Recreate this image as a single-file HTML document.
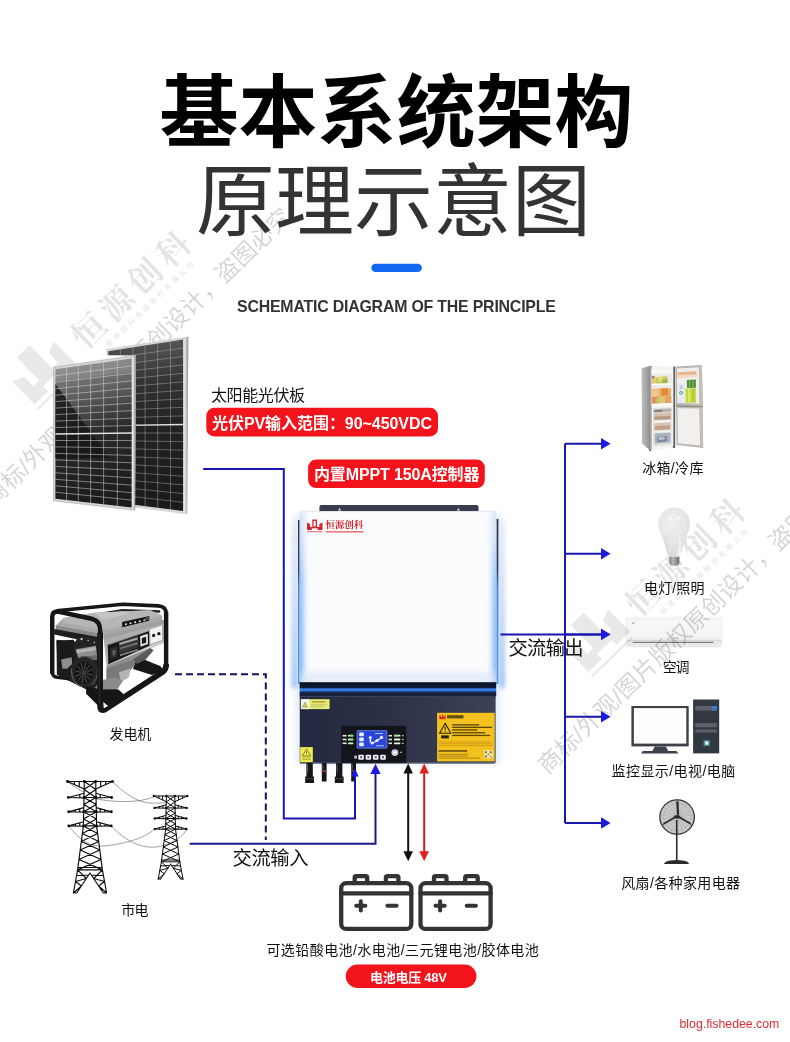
<!DOCTYPE html>
<html lang="zh-CN">
<head>
<meta charset="utf-8">
<title>基本系统架构 原理示意图</title>
<style>
html,body{margin:0;padding:0;background:#fff}
#page{position:relative;width:790px;height:1042px;overflow:hidden;background:#fff;font-family:"Liberation Sans",sans-serif}
#art{position:absolute;left:0;top:0;display:block}
#art text{font-family:"Liberation Sans","Noto Sans CJK SC",sans-serif}
#art text.serif{font-family:"Liberation Serif","Noto Serif CJK SC",serif}
.en{position:absolute;white-space:nowrap;font-family:"Liberation Sans",sans-serif;margin:0}
</style>
</head>
<body>
<div id="page">
<svg id="art" width="790" height="1042" viewBox="0 0 790 1042">
<defs><linearGradient id="invW" x1="0" y1="0" x2="1" y2="0"><stop offset="0" stop-color="#dcebfb"/><stop offset="0.05" stop-color="#f4f7fd"/><stop offset="0.5" stop-color="#fcfcfe"/><stop offset="0.93" stop-color="#f1f5fc"/><stop offset="1" stop-color="#d2e4fa"/></linearGradient><linearGradient id="invD" x1="0" y1="0" x2="1" y2="0"><stop offset="0" stop-color="#232940"/><stop offset="0.45" stop-color="#2c3147"/><stop offset="1" stop-color="#3d4258"/></linearGradient><linearGradient id="invGl" x1="0" y1="0" x2="1" y2="0"><stop offset="0" stop-color="#ffffff" stop-opacity="0"/><stop offset="0.55" stop-color="#9cc6f7" stop-opacity=".55"/><stop offset="1" stop-color="#3f8fee"/></linearGradient><linearGradient id="invGr" x1="1" y1="0" x2="0" y2="0"><stop offset="0" stop-color="#ffffff" stop-opacity="0"/><stop offset="0.55" stop-color="#9cc6f7" stop-opacity=".55"/><stop offset="1" stop-color="#3f8fee"/></linearGradient><linearGradient id="invStripe" x1="0" y1="0" x2="0" y2="1"><stop offset="0" stop-color="#0b1020"/><stop offset="0.38" stop-color="#0d1a3c"/><stop offset="0.5" stop-color="#3b8df2"/><stop offset="0.62" stop-color="#2a6ad0"/><stop offset="0.75" stop-color="#14203f"/><stop offset="1" stop-color="#1c2238"/></linearGradient><linearGradient id="invSide" x1="0" y1="0" x2="0" y2="1"><stop offset="0" stop-color="#1a2544"/><stop offset="0.3" stop-color="#16264e"/><stop offset="0.42" stop-color="#2f74d8"/><stop offset="1" stop-color="#3f90f2"/></linearGradient><clipPath id="invClip"><rect x="299.6" y="511.2" width="196.9" height="171.2"/></clipPath><linearGradient id="solF" x1="0" y1="0" x2="0.12" y2="1"><stop offset="0" stop-color="#8e8e8e"/><stop offset="0.2" stop-color="#6e6e6e"/><stop offset="0.42" stop-color="#444"/><stop offset="0.55" stop-color="#2a2a2a"/><stop offset="1" stop-color="#1c1c1c"/></linearGradient><linearGradient id="solB" x1="0" y1="0" x2="0" y2="1"><stop offset="0" stop-color="#555"/><stop offset="0.25" stop-color="#333"/><stop offset="0.5" stop-color="#222"/><stop offset="1" stop-color="#1a1a1a"/></linearGradient><linearGradient id="solFr" x1="0" y1="0" x2="1" y2="0"><stop offset="0" stop-color="#f2f2f2"/><stop offset="0.5" stop-color="#cfcfcf"/><stop offset="1" stop-color="#8e8e8e"/></linearGradient><clipPath id="solBackClip"><polygon points="135.6,300 200,300 200,530 135.0,530 135.0,510.3 135.6,355.2 100,355.2 100,300"/></clipPath><linearGradient id="frSide" x1="0" y1="0" x2="1" y2="0"><stop offset="0" stop-color="#bdbdbd"/><stop offset="0.6" stop-color="#a4a4a4"/><stop offset="1" stop-color="#8e8e8e"/></linearGradient><radialGradient id="bulbG" cx="0.42" cy="0.3" r="0.75"><stop offset="0" stop-color="#efefef"/><stop offset="0.55" stop-color="#e6e6e6"/><stop offset="1" stop-color="#d8d8d8"/></radialGradient><linearGradient id="bulbB" x1="0" y1="0" x2="1" y2="0"><stop offset="0" stop-color="#7e7e7e"/><stop offset="0.35" stop-color="#c4c4c4"/><stop offset="0.6" stop-color="#a0a0a0"/><stop offset="1" stop-color="#6e6e6e"/></linearGradient><linearGradient id="acG" x1="0" y1="0" x2="0" y2="1"><stop offset="0" stop-color="#f1f1f1"/><stop offset="0.2" stop-color="#f8f8f8"/><stop offset="0.85" stop-color="#f3f3f3"/><stop offset="1" stop-color="#e6e6e6"/></linearGradient><linearGradient id="invOut" x1="0" y1="0" x2="0" y2="1"><stop offset="0" stop-color="#c9d3ea" stop-opacity=".35"/><stop offset="0.4" stop-color="#b4cbf0" stop-opacity=".6"/><stop offset="1" stop-color="#8fb9f3" stop-opacity=".85"/></linearGradient><linearGradient id="invIn" x1="0" y1="0" x2="0" y2="1"><stop offset="0" stop-color="#4f9bf3" stop-opacity="0"/><stop offset="0.3" stop-color="#4f9bf3" stop-opacity=".75"/><stop offset="1" stop-color="#4f9bf3" stop-opacity="1"/></linearGradient><filter id="blur2" x="-150%" y="-10%" width="400%" height="120%"><feGaussianBlur stdDeviation="2.2"/></filter><filter id="blur1" x="-20%" y="-20%" width="140%" height="140%"><feGaussianBlur stdDeviation="1.2"/></filter><filter id="blur3" x="-300%" y="-30%" width="700%" height="160%"><feGaussianBlur stdDeviation="3"/></filter><filter id="blur05" x="-10%" y="-10%" width="120%" height="120%"><feGaussianBlur stdDeviation="0.5"/></filter></defs>
<g transform="translate(88.1 329.1) rotate(-44)" fill="#000" fill-opacity=".085"><path d="M-66 22V-10L-54 -5V8H-46V-24H-28V8H-20V-5L-8 -10V22H-27V15H-47V22Z" transform="translate(-25 -5)"/><rect x="-92" y="21.5" width="56" height="2"/></g>
<text class="serif" transform="translate(88.1 329.1) rotate(-44)" x="-17" y="13.5" font-size="33" font-weight="bold" fill="#000" fill-opacity=".105" textLength="150" lengthAdjust="spacing">恒源创科</text>
<text transform="translate(88.1 329.1) rotate(-44)" x="2" y="27.5" font-size="7" font-weight="bold" fill="#000" fill-opacity=".09" textLength="119" lengthAdjust="spacing">恒源创科电器股份有限公司</text>
<text transform="translate(88.1 329.1) rotate(-44)" x="-192" y="62.5" font-size="23.5" fill="#000" fill-opacity=".17" textLength="416" lengthAdjust="spacing">商标/外观/图片版权原创设计，盗图必究</text>
<g transform="translate(642.1 596.6) rotate(-44)" fill="#000" fill-opacity=".085"><path d="M-66 22V-10L-54 -5V8H-46V-24H-28V8H-20V-5L-8 -10V22H-27V15H-47V22Z" transform="translate(-25 -5)"/><rect x="-92" y="21.5" width="56" height="2"/></g>
<text class="serif" transform="translate(642.1 596.6) rotate(-44)" x="-17" y="13.5" font-size="33" font-weight="bold" fill="#000" fill-opacity=".105" textLength="150" lengthAdjust="spacing">恒源创科</text>
<text transform="translate(642.1 596.6) rotate(-44)" x="2" y="27.5" font-size="7" font-weight="bold" fill="#000" fill-opacity=".09" textLength="119" lengthAdjust="spacing">恒源创科电器股份有限公司</text>
<text transform="translate(642.1 596.6) rotate(-44)" x="-192" y="62.5" font-size="23.5" fill="#000" fill-opacity=".17" textLength="416" lengthAdjust="spacing">商标/外观/图片版权原创设计，盗图必究</text>
<text x="396.5" y="141" font-size="79" font-weight="bold" fill="#000" text-anchor="middle">基本系统架构</text>
<text x="393.5" y="230" font-size="79" fill="#333" text-anchor="middle">原理示意图</text>
<rect x="371.3" y="263.7" width="50.6" height="8.3" rx="4.15" fill="#1268f3"/>
<g clip-path="url(#solBackClip)"><polygon points="106.4,349.0 188.3,336.4 187.2,514.2 106.4,504.0" fill="#d4d4d4"/><polygon points="108.3,351.2 183.4,339.6 183.4,511.0 108.3,501.5" fill="url(#solB)"/><path d="M120.4 349.3L120.4 503.0M132.7 347.4L132.7 504.6M145.1 345.5L145.1 506.2M157.7 343.6L157.7 507.8M170.5 341.6L170.5 509.4M108.3 358.6L183.4 348.0M108.3 366.0L183.4 356.4M108.3 373.4L183.4 364.9M108.3 380.8L183.4 373.3M108.3 388.2L183.4 381.8M108.3 395.7L183.4 390.3M108.3 403.1L183.4 398.8M108.3 410.6L183.4 407.3M108.3 418.1L183.4 415.9M108.3 433.1L183.4 433.0M108.3 440.7L183.4 441.6M108.3 448.2L183.4 450.2M108.3 455.8L183.4 458.9M108.3 463.4L183.4 467.5M108.3 471.0L183.4 476.2M108.3 478.6L183.4 484.9M108.3 486.2L183.4 493.6M108.3 493.8L183.4 502.3" stroke="#bdbdbd" stroke-width="0.6" stroke-opacity="0.7" fill="none"/><path d="M108.3 425.6L183.4 424.5" stroke="#e2e2e2" stroke-width="1.3" fill="none"/><polygon points="183.4,339.6 188.3,336.4 187.2,514.2 183.4,511" fill="url(#solFr)"/></g><polygon points="53.6,367.3 135.6,355.2 135.0,510.3 53.5,500.8" fill="#d4d4d4"/><polygon points="55.5,369.3 131.8,358.4 131.8,507.6 55.4,498.7" fill="url(#solF)"/><polygon points="55.4,384 92,433.5 110,458 55.4,458" fill="#161616" opacity=".82" filter="url(#blur05)"/><polygon points="55.5,369.3 131.8,358.4 131.8,372 55.5,381" fill="#ffffff" opacity=".12"/><path d="M66.6 367.7L66.6 500.0M78.3 366.0L78.3 501.4M90.7 364.3L90.6 502.8M103.6 362.4L103.6 504.3M117.3 360.5L117.3 505.9M55.5 375.8L131.8 365.9M55.5 382.2L131.8 373.3M55.5 388.7L131.8 380.8M55.5 395.2L131.8 388.2M55.5 401.6L131.8 395.7M55.5 408.1L131.8 403.2M55.5 414.6L131.8 410.6M55.5 421.1L131.8 418.1M55.5 427.5L131.8 425.5M55.4 440.5L131.8 440.5M55.4 446.9L131.8 447.9M55.4 453.4L131.8 455.4M55.4 459.9L131.8 462.8M55.4 466.4L131.8 470.3M55.4 472.8L131.8 477.8M55.4 479.3L131.8 485.2M55.4 485.8L131.8 492.7M55.4 492.2L131.8 500.1" stroke="#dcdcdc" stroke-width="0.65" stroke-opacity="0.78" fill="none"/><path d="M55.5 434.0L131.8 433.0" stroke="#e2e2e2" stroke-width="1.3" fill="none"/><polygon points="131.8,358.4 135.6,355.2 135.0,510.3 131.8,507.6" fill="url(#solFr)"/><polygon points="53.6,367.3 135.6,355.2 135.0,510.3 53.5,500.8" fill="none" stroke="#9a9a9a" stroke-width=".5"/>
<g transform="translate(45 595) scale(0.16456)"><path d="M70 96L472 56L690 66Q736 70 736 112" fill="none" stroke="#161616" stroke-width="22" stroke-linejoin="round"/><path d="M190 140L470 92L700 100" fill="none" stroke="#242424" stroke-width="15"/><polygon points="549,404 590,388 700,432 722,458 650,486 535,450" fill="#171717" /><polygon points="66,186 112,140 300,108 640,92 712,124 712,166 372,250 340,238 66,212" fill="#a9a9a9" /><polygon points="112,140 300,108 640,92 706,124 366,214 108,168" fill="#b6b6b6" /><polygon points="300,108 470,100 520,112 350,150" fill="#cdcdcd" opacity=".6"/><polygon points="66,186 340,236 340,262 66,214" fill="#8a8a8a" /><polygon points="56,206 340,258 340,300 56,240" fill="#1d1d1d" /><polygon points="355,246 738,148 740,284 374,430" fill="#adadad" /><polygon points="355,246 738,148 738,168 356,270" fill="#9f9f9f" /><polygon points="468,164 634,128 634,157 470,196" fill="#141414" /><circle cx="492" cy="178.0" r="6" fill="#efefef"/><circle cx="520" cy="171.8" r="6" fill="#efefef"/><circle cx="548" cy="165.6" r="6" fill="#efefef"/><circle cx="576" cy="159.4" r="6" fill="#efefef"/><circle cx="604" cy="153.2" r="6" fill="#efefef"/><polygon points="606,137 632,131 632,152 606,158" fill="#4c4c4c" /><polygon points="381,300 632,216 634,310 385,422" fill="#181818" /><polygon points="384,296 632,212 632,220 384,306" fill="#dadada" opacity=".55"/><polygon points="448,286 566,248 569,318 452,356" fill="#383838" /><polygon points="452,292 562,258 563,270 453,304" fill="#c8c8c8" opacity=".8"/><polygon points="456,320 562,288 563,298 457,330" fill="#999" opacity=".7"/><polygon points="455,360 565,326 566,338 456,372" fill="#aaa" opacity=".7"/><polygon points="398,322 438,308 440,374 400,390" fill="#2e2e2e" /><polygon points="410,338 428,332 429,362 411,368" fill="#606060" /><polygon points="578,250 624,236 626,298 580,314" fill="#e6e6e6" /><polygon points="588,262 614,254 615,290 589,298" fill="#1c1c1c" /><polygon points="638,210 711,186 712,274 641,298" fill="#f3f3f3" /><circle cx="660" cy="246" r="10" fill="#141414"/><circle cx="692" cy="235" r="10" fill="#141414"/><polygon points="385,422 634,310 740,270 740,284 374,430" fill="#cfcfcf" /><polygon points="374,430 640,322 612,392 549,408 444,566 374,600" fill="#8f8f8f" /><polygon points="374,448 535,392 549,420 470,520 420,560 374,560" fill="#7a7a7a" /><polygon points="450,470 520,446 510,500 460,530" fill="#b4b4b4" /><polygon points="535,392 640,322 660,336 612,392 560,420" fill="#5a5a5a" /><polygon points="70,272 186,282 200,250 340,264 340,604 292,594 150,524 72,484" fill="#232323" /><polygon points="186,330 310,308 318,392 210,408" fill="#8e8e8e" /><polygon points="190,336 306,316 308,334 194,356" fill="#b4b4b4" /><polygon points="212,380 316,364 318,392 214,408" fill="#6e6e6e" /><polygon points="70,278 176,272 184,490 78,484" fill="#1b1b1b" /><polygon points="98,392 162,378 165,420 134,448 106,448" fill="#8e8e8e" /><circle cx="222" cy="268" r="7" fill="#e2e2e2"/><circle cx="262" cy="276" r="4.5" fill="#bbb"/><circle cx="300" cy="288" r="4.5" fill="#ccc"/><ellipse cx="240" cy="466" rx="82" ry="96" fill="#262626"/><ellipse cx="240" cy="466" rx="79" ry="93" fill="none" stroke="#6c6c6c" stroke-width="6" stroke-dasharray="90 60 140 80"/><ellipse cx="236" cy="474" rx="58" ry="68" fill="#151515"/><path d="M254 478L290 487M249 487L277 517M242 493L253 536M232 494L225 538M224 489L200 523M219 480L184 495M218 470L182 461M223 461L195 431M230 455L219 412M240 454L247 410M248 459L272 425M253 468L288 453" stroke="#5a5a5a" stroke-width="5" fill="none"/><ellipse cx="236" cy="474" rx="15" ry="17" fill="#3c3c3c"/><polygon points="300,566 340,592 440,566 470,520 420,500 340,520" fill="#8a8a8a" /><polygon points="250,556 346,574 444,572 480,604 382,674 340,690 250,600" fill="#151515" /><path d="M44 478L44 132Q44 100 78 100L290 146Q335 160 335 212L335 676" fill="none" stroke="#161616" stroke-width="27" stroke-linejoin="round"/><path d="M736 100L736 440" fill="none" stroke="#161616" stroke-width="27"/><path d="M335 230L335 674Q335 712 368 694L712 470Q738 452 736 420" fill="none" stroke="#161616" stroke-width="35" stroke-linejoin="round"/><path d="M44 470Q46 498 76 500L150 510" fill="none" stroke="#161616" stroke-width="20"/><path d="M330 240L330 660" stroke="#4a4a4a" stroke-width="4" fill="none" opacity=".7"/><polygon points="354,650 384,674 357,688" fill="#fff" /></g>
<path fill="none" stroke="#6e6e6e" stroke-width="0.65" d="M112.4 781.5C118 787 128 796 138 800.2S158 803 165.8 802.7M95.6 798.5C104 801 122 802 131.6 801.3S148 799.5 154.2 796.4M111.2 825.9C116 831 126 840.5 138 844.7S160 847.5 170 843S183 835 186.8 829.4M68.7 825.9C74 832 84 845 97 846S134 841 142 837S151 832 154.4 829.2M67.5 781.5C72 785 79 789.5 84 792.6"/><path d="M84.3 781.5L83.4 825.9M83.4 825.9L77.6 869.9M77.6 869.9L73.4 893.0M95.7 781.5L96.6 825.9M96.6 825.9L102.4 869.9M102.4 869.9L106.6 893.0M67.5 781.5L84.3 781.5M67.5 781.5L84.1 789.0M79.3 781.5L79.3 786.5M74.3 781.5L74.3 784.1M84.3 781.5L84.3 781.5M112.5 781.5L95.7 781.5M112.5 781.5L95.9 789.0M100.7 781.5L100.7 786.5M105.7 781.5L105.7 784.1M95.7 781.5L95.7 781.5M84.3 781.5L95.7 781.5M68.4 797.5L84.1 793.3M68.4 797.5L84.0 797.9M79.8 794.5L79.8 797.8M75.3 795.6L75.3 797.7M111.6 797.5L95.9 793.3M111.6 797.5L96.0 797.9M100.2 794.5L100.2 797.8M104.7 795.6L104.7 797.7M84.0 797.5L96.0 797.5M68.7 811.8L83.8 807.6M68.7 811.8L83.7 812.2M79.8 808.8L79.8 812.1M75.3 809.9L75.3 812.0M111.3 811.8L96.2 807.6M111.3 811.8L96.3 812.2M100.2 808.8L100.2 812.1M104.7 809.9L104.7 812.0M83.7 811.8L96.3 811.8M68.8 825.9L83.5 821.7M68.8 825.9L83.4 826.3M79.8 822.9L79.8 826.2M75.3 824.0L75.3 826.1M111.2 825.9L96.5 821.7M111.2 825.9L96.6 826.3M100.2 822.9L100.2 826.2M104.7 824.0L104.7 826.1M83.4 825.9L96.6 825.9M84.3 781.5L95.9 789.5M95.7 781.5L84.1 789.5M84.1 789.5L96.0 797.5M95.9 789.5L84.0 797.5M84.0 797.5L96.2 804.5M96.0 797.5L83.8 804.5M83.8 804.5L96.3 811.8M96.2 804.5L83.7 811.8M83.7 811.8L96.5 819.0M96.3 811.8L83.5 819.0M83.5 819.0L96.6 825.9M96.5 819.0L83.4 825.9M83.4 825.9L97.6 833.5M96.6 825.9L82.4 833.5M82.4 833.5L98.7 841.5M97.6 833.5L81.3 841.5M81.3 841.5L99.8 850.0M98.7 841.5L80.2 850.0M80.2 850.0L101.0 859.5M99.8 850.0L79.0 859.5M79.0 859.5L102.4 869.9M101.0 859.5L77.6 869.9M77.6 869.9L102.4 869.9M77.9 867.5L102.1 867.5M90.0 873.0L76.7 893.0M73.4 893.0L76.7 893.0M77.6 869.9L86.3 878.5M86.3 878.5L75.5 881.5M75.5 881.5L81.4 886.0M81.4 886.0L73.4 893.0M76.6 875.5L88.7 875.0M90.0 873.0L103.3 893.0M106.6 893.0L103.3 893.0M102.4 869.9L93.7 878.5M93.7 878.5L104.5 881.5M104.5 881.5L98.6 886.0M98.6 886.0L106.6 893.0M103.4 875.5L91.3 875.0" fill="none" stroke="#0d0d0d" stroke-width="1.15" stroke-linecap="round"/><circle cx="67.5" cy="781.5" r="1.45" fill="#0d0d0d"/><circle cx="84.3" cy="781.5" r="1.45" fill="#0d0d0d"/><circle cx="112.5" cy="781.5" r="1.45" fill="#0d0d0d"/><circle cx="95.7" cy="781.5" r="1.45" fill="#0d0d0d"/><circle cx="68.4" cy="797.5" r="1.45" fill="#0d0d0d"/><circle cx="84.0" cy="797.5" r="1.45" fill="#0d0d0d"/><circle cx="111.6" cy="797.5" r="1.45" fill="#0d0d0d"/><circle cx="96.0" cy="797.5" r="1.45" fill="#0d0d0d"/><circle cx="68.7" cy="811.8" r="1.45" fill="#0d0d0d"/><circle cx="83.7" cy="811.8" r="1.45" fill="#0d0d0d"/><circle cx="111.3" cy="811.8" r="1.45" fill="#0d0d0d"/><circle cx="96.3" cy="811.8" r="1.45" fill="#0d0d0d"/><circle cx="68.8" cy="825.9" r="1.45" fill="#0d0d0d"/><circle cx="83.4" cy="825.9" r="1.45" fill="#0d0d0d"/><circle cx="111.2" cy="825.9" r="1.45" fill="#0d0d0d"/><circle cx="96.6" cy="825.9" r="1.45" fill="#0d0d0d"/><path d="M166.4 796.0L165.7 829.0M165.7 829.0L161.4 861.8M161.4 861.8L158.2 879.0M174.8 796.0L175.5 829.0M175.5 829.0L179.8 861.8M179.8 861.8L183.0 879.0M153.9 796.0L166.4 796.0M153.9 796.0L166.2 801.6M162.6 796.0L162.6 799.7M158.9 796.0L158.9 797.9M166.4 796.0L166.4 796.0M187.3 796.0L174.8 796.0M187.3 796.0L175.0 801.6M178.6 796.0L178.6 799.7M182.3 796.0L182.3 797.9M174.8 796.0L174.8 796.0M166.4 796.0L174.8 796.0M154.5 807.9L166.2 804.8M154.5 807.9L166.1 808.2M163.0 805.7L163.0 808.1M159.7 806.5L159.7 808.1M186.7 807.9L175.0 804.8M186.7 807.9L175.1 808.2M178.2 805.7L178.2 808.1M181.5 806.5L181.5 808.1M166.1 807.9L175.1 807.9M154.8 818.5L166.0 815.4M154.8 818.5L165.9 818.8M163.0 816.3L163.0 818.8M159.7 817.1L159.7 818.7M186.4 818.5L175.2 815.4M186.4 818.5L175.3 818.8M178.2 816.3L178.2 818.8M181.5 817.1L181.5 818.7M165.9 818.5L175.3 818.5M154.8 829.0L165.7 825.9M154.8 829.0L165.7 829.3M163.0 826.8L163.0 829.3M159.7 827.6L159.7 829.2M186.4 829.0L175.5 825.9M186.4 829.0L175.5 829.3M178.2 826.8L178.2 829.3M181.5 827.6L181.5 829.2M165.7 829.0L175.5 829.0M166.4 796.0L175.0 802.0M174.8 796.0L166.2 802.0M166.2 802.0L175.1 807.9M175.0 802.0L166.1 807.9M166.1 807.9L175.2 813.1M175.1 807.9L166.0 813.1M166.0 813.1L175.3 818.5M175.2 813.1L165.9 818.5M165.9 818.5L175.4 823.9M175.3 818.5L165.8 823.9M165.8 823.9L175.5 829.0M175.4 823.9L165.7 829.0M165.7 829.0L176.3 834.7M175.5 829.0L164.9 834.7M164.9 834.7L177.0 840.6M176.3 834.7L164.2 840.6M164.2 840.6L177.9 847.0M177.0 840.6L163.3 847.0M163.3 847.0L178.8 854.0M177.9 847.0L162.4 854.0M162.4 854.0L179.8 861.8M178.8 854.0L161.4 861.8M161.4 861.8L179.8 861.8M161.6 860.0L179.6 860.0M170.6 864.1L160.7 879.0M158.2 879.0L160.7 879.0M161.4 861.8L167.9 868.2M167.9 868.2L159.8 870.4M159.8 870.4L164.2 873.7M164.2 873.7L158.2 879.0M160.6 865.9L169.6 865.6M170.6 864.1L180.5 879.0M183.0 879.0L180.5 879.0M179.8 861.8L173.3 868.2M173.3 868.2L181.4 870.4M181.4 870.4L177.0 873.7M177.0 873.7L183.0 879.0M180.6 865.9L171.6 865.6" fill="none" stroke="#0d0d0d" stroke-width="1.00" stroke-linecap="round"/><circle cx="153.9" cy="796.0" r="1.18" fill="#0d0d0d"/><circle cx="166.4" cy="796.0" r="1.18" fill="#0d0d0d"/><circle cx="187.3" cy="796.0" r="1.18" fill="#0d0d0d"/><circle cx="174.8" cy="796.0" r="1.18" fill="#0d0d0d"/><circle cx="154.5" cy="807.9" r="1.18" fill="#0d0d0d"/><circle cx="166.1" cy="807.9" r="1.18" fill="#0d0d0d"/><circle cx="186.7" cy="807.9" r="1.18" fill="#0d0d0d"/><circle cx="175.1" cy="807.9" r="1.18" fill="#0d0d0d"/><circle cx="154.8" cy="818.5" r="1.18" fill="#0d0d0d"/><circle cx="165.9" cy="818.5" r="1.18" fill="#0d0d0d"/><circle cx="186.4" cy="818.5" r="1.18" fill="#0d0d0d"/><circle cx="175.3" cy="818.5" r="1.18" fill="#0d0d0d"/><circle cx="154.8" cy="829.0" r="1.18" fill="#0d0d0d"/><circle cx="165.7" cy="829.0" r="1.18" fill="#0d0d0d"/><circle cx="186.4" cy="829.0" r="1.18" fill="#0d0d0d"/><circle cx="175.5" cy="829.0" r="1.18" fill="#0d0d0d"/>
<rect x="296" y="514" width="204" height="250" fill="#c9dcf4" opacity=".55" filter="url(#blur3)"/><path d="M319.4 511.5V507.1Q319.4 505.1 321.4 505.1H476.5Q478.5 505.1 478.5 507.1V511.5Z" fill="#3a3d4c"/><path d="M338 510.8L339.6 507.6L341.2 510.8ZM456.8 510.8L458.4 507.6L460 510.8Z" fill="#c9cbd6"/><rect x="298" y="520" width="2.2" height="164" fill="url(#invSide)"/><rect x="496" y="519" width="2.4" height="165" fill="url(#invSide)"/><rect x="291.5" y="520" width="6" height="168" fill="url(#invOut)" filter="url(#blur2)"/><rect x="499" y="520" width="6" height="168" fill="url(#invOut)" filter="url(#blur2)"/><rect x="299.6" y="511.2" width="196.9" height="171.2" fill="#fbfcfe"/><g clip-path="url(#invClip)"><rect x="295" y="511" width="9" height="172" fill="#c4d7f2" opacity=".8" filter="url(#blur3)"/><rect x="492" y="511" width="9" height="172" fill="#c4d7f2" opacity=".8" filter="url(#blur3)"/><rect x="296.6" y="535" width="5" height="152" fill="url(#invIn)" filter="url(#blur3)"/><rect x="494.5" y="535" width="5" height="152" fill="url(#invIn)" filter="url(#blur3)"/><rect x="299.6" y="672" width="197" height="12" fill="#dfe7f5" opacity=".8" filter="url(#blur3)"/></g><rect x="299.6" y="511.2" width="196.9" height="1" fill="#e4e7ee"/><g fill="#d9232b"><path d="M307 530V522.6L310 524V527H312.3V519.4H317V527H319.4V524L322.5 522.6V530H317.6V528.2H311.8V530Z"/><path d="M313.6 521H315.7V526.4H313.6Z" fill="#fbfcfe"/><rect x="307" y="531.3" width="15.5" height="0.9" opacity=".8"/><rect x="325.8" y="531.2" width="37.8" height="1.3" opacity=".75"/></g>
<text class="serif" x="325.6" y="528.4" font-size="9.3" font-weight="bold" fill="#d9232b" textLength="37.7" lengthAdjust="spacing">恒源创科</text>
<rect x="299.6" y="682.2" width="196.6" height="14" fill="url(#invStripe)"/><rect x="299.8" y="696" width="195.8" height="66.8" fill="url(#invD)"/><rect x="299.8" y="696" width="195.8" height="1" fill="#3a4056"/><rect x="300.9" y="699.2" width="28.7" height="9.9" fill="#e4ea72"/><rect x="300.9" y="699.2" width="8.4" height="9.9" fill="#f4f4ea"/><path d="M302.5 707.2L305.1 702L307.7 707.2Z" fill="#c9cf3c" stroke="#6f7340" stroke-width=".4"/><rect x="312" y="701" width="13" height="1.7" fill="#b9a93a"/><rect x="311" y="704.4" width="15.5" height="0.8" fill="#b9be6c"/><rect x="311" y="706.2" width="12" height="0.8" fill="#b9be6c"/><rect x="300.2" y="747.1" width="12.6" height="15.1" fill="#f1ea52"/><path d="M302.3 756L306.5 748.9L310.7 756Z" fill="none" stroke="#6b6620" stroke-width=".8"/><rect x="306.1" y="751.3" width=".8" height="2.8" fill="#6b6620"/><rect x="302" y="757.6" width="9" height=".7" fill="#a8a23a"/><rect x="302" y="759.3" width="9" height=".7" fill="#a8a23a"/><rect x="341.2" y="725.8" width="65.1" height="37" fill="#14151b"/><rect x="357" y="730.6" width="30" height="17.6" rx=".8" fill="#2a47da"/><rect x="357" y="730.6" width="30" height="17.6" rx=".8" fill="none" stroke="#8ea2f2" stroke-width=".6"/><g fill="#e9efff"><rect x="359.2" y="732.6" width="4.6" height="3.6" rx=".8"/><rect x="359.2" y="737.4" width="4.6" height="3.8" rx=".8"/><rect x="359.2" y="742.6" width="4.6" height="3.6" rx=".8"/><circle cx="370.3" cy="737.6" r="1.5"/><circle cx="372.2" cy="743" r="1.6"/><circle cx="377" cy="740.4" r="1.5"/><circle cx="381.5" cy="737.4" r="1.6"/><rect x="369.6" y="739" width="1.5" height="3.6"/><path d="M372.6 742.6L381.3 737.2L381.9 738.2L373.2 743.6Z"/><rect x="375" y="733" width="8" height="1" opacity=".7"/><rect x="376" y="745.2" width="8" height="1" opacity=".7"/></g><rect x="342.6" y="734.9" width="4" height="1.6" fill="#e8e8e8"/><rect x="348" y="734.8" width="5.4" height="1.8" rx=".6" fill="#d8f3c8"/><rect x="388.6" y="734.9" width="3.4" height="1.6" fill="#e8e8e8"/><rect x="394" y="734.8" width="6.4" height="1.8" rx=".6" fill="#e6f5d8"/><rect x="402" y="735.1" width="1.6" height="1.2" fill="#d0d0d0"/><rect x="342.6" y="738.7" width="4" height="1.6" fill="#e8e8e8"/><rect x="348" y="738.6" width="5.4" height="1.8" rx=".6" fill="#d8f3c8"/><rect x="388.6" y="738.7" width="3.4" height="1.6" fill="#e8e8e8"/><rect x="394" y="738.6" width="6.4" height="1.8" rx=".6" fill="#e6f5d8"/><rect x="402" y="738.9" width="1.6" height="1.2" fill="#d0d0d0"/><rect x="342.6" y="742.5" width="4" height="1.6" fill="#e8e8e8"/><rect x="348" y="742.4" width="5.4" height="1.8" rx=".6" fill="#d8f3c8"/><rect x="388.6" y="742.5" width="3.4" height="1.6" fill="#e8e8e8"/><rect x="394" y="742.4" width="6.4" height="1.8" rx=".6" fill="#e6f5d8"/><rect x="402" y="742.7" width="1.6" height="1.2" fill="#d0d0d0"/><rect x="350.4" y="734.8" width="3" height="1.8" rx=".6" fill="#5be04a"/><rect x="350.4" y="738.6" width="3" height="1.8" rx=".6" fill="#5be04a"/><rect x="394.6" y="734.8" width="3.2" height="1.8" rx=".6" fill="#9be36a"/><rect x="354.3" y="755.6" width="2.6" height="3" fill="#bfc3cc"/><rect x="358.3" y="754.7" width="5.6" height="5.1" rx="1" fill="#eef0f4"/><rect x="360.1" y="756.2" width="2" height="2" fill="#555b6a"/><rect x="365.6" y="754.7" width="5.6" height="5.1" rx="1" fill="#eef0f4"/><rect x="367.4" y="756.2" width="2" height="2" fill="#555b6a"/><rect x="372.9" y="754.7" width="5.6" height="5.1" rx="1" fill="#eef0f4"/><rect x="374.7" y="756.2" width="2" height="2" fill="#555b6a"/><rect x="380.2" y="754.7" width="5.6" height="5.1" rx="1" fill="#eef0f4"/><rect x="382.0" y="756.2" width="2" height="2" fill="#555b6a"/><circle cx="394.9" cy="752.6" r="3.4" fill="#d9dce2"/><circle cx="394.9" cy="752.6" r="2.1" fill="#f6f7f9" stroke="#9096a3" stroke-width=".5"/><circle cx="401" cy="752.4" r=".8" fill="#c9ccd4"/><rect x="437.1" y="712.8" width="57.6" height="48.6" fill="#f3c21e"/><g fill="#d2322a"><path d="M439.4 719.2V715.3H440.7V716.8H441.9V714.4H443.1V716.8H444.3V715.3H445.6V719.2Z"/></g><rect x="447" y="715.2" width="16.5" height="3.2" fill="#4a3c10" opacity=".85"/><path d="M439.6 733.2L445.2 723.2L450.8 733.2Z" fill="none" stroke="#2b2408" stroke-width="1.1" stroke-linejoin="round"/><rect x="444.7" y="726.3" width="1" height="3.8" fill="#2b2408"/><rect x="444.7" y="730.8" width="1" height="1" fill="#2b2408"/><rect x="441.2" y="735.4" width="7.6" height="3" fill="#2b2408"/><rect x="452.2" y="724.2" width="27" height="1.3" fill="#4a3a08" opacity=".9"/><rect x="452.2" y="726.7" width="40" height="1.3" fill="#4a3a08" opacity=".9"/><rect x="452.2" y="729.3" width="25" height="1.3" fill="#4a3a08" opacity=".9"/><rect x="452.2" y="732.1" width="33" height="1.3" fill="#4a3a08" opacity=".9"/><rect x="452.2" y="734.8" width="38" height="1.3" fill="#4a3a08" opacity=".9"/><rect x="438.5" y="740.6" width="54.8" height="6.4" fill="#f0b91a"/><rect x="439.4" y="741.6" width="52" height=".7" fill="#c99a1a"/><rect x="439.4" y="743.4" width="52" height=".7" fill="#c99a1a"/><rect x="439.4" y="745.2" width="52" height=".7" fill="#c99a1a"/><rect x="438.6" y="750.2" width="28.5" height="1.5" fill="#4a3a08" opacity=".9"/><rect x="438.6" y="753.8" width="30" height=".8" fill="#9a7612"/><rect x="438.6" y="755.7" width="29" height=".8" fill="#9a7612"/><rect x="438.6" y="757.7" width="41" height=".8" fill="#9a7612"/><rect x="483.9" y="750.2" width="8.8" height="8.2" fill="#f7e7a6"/><path d="M484.9 751.2h2v2h-2zM489.7 751.2h2v2h-2zM484.9 755.4h2v2h-2zM487.6 753.4h1.4v1.4h-1.4zM489.5 755.6h1.2v1.2h-1.2zM491 757h.9v.9H491z" fill="#7f7448"/><path d="M306.40000000000003 762.8H312.8V776.5H314.0V783H305.20000000000005V776.5H306.40000000000003Z" fill="#17171a"/><rect x="307.0" y="764.5" width="1.1" height="8" fill="#5a5a60"/><rect x="305.20000000000005" y="778" width="8.8" height="1.3" fill="#3a3a3e"/><path d="M321.8 762.8H326.59999999999997V781.5H321.8Z" fill="#17171a"/><rect x="322.4" y="764.5" width="1" height="5" fill="#5a5a60"/><rect x="321.59999999999997" y="770.4" width="5.2" height="1.4" fill="#b23a4a"/><path d="M336.0 762.8H342.4V776.5H343.59999999999997V783H334.8V776.5H336.0Z" fill="#17171a"/><rect x="336.59999999999997" y="764.5" width="1.1" height="8" fill="#5a5a60"/><rect x="334.8" y="778" width="8.8" height="1.3" fill="#3a3a3e"/><path d="M351.20000000000005 762.8H356.0V781.5H351.20000000000005Z" fill="#17171a"/><rect x="351.8" y="764.5" width="1" height="5" fill="#5a5a60"/><rect x="351.0" y="770.4" width="5.2" height="1.4" fill="#8a3a6a"/><rect x="300" y="762.8" width="195" height="1.2" fill="#1a1d2a" opacity=".5"/>
<g transform="translate(630 355) scale(0.10759)"><polygon points="108,126 186,100 186,886 112,822" fill="url(#frSide)" /><polygon points="186,100 416,110 416,862 186,886" fill="#f4f4f2" /><polygon points="186,100 202,101 202,884 186,886" fill="#a2a2a2" /><polygon points="200,136 388,132 388,452 200,456" fill="#eceae2" /><polygon points="200,136 388,132 388,170 200,176" fill="#f8f8f6" /><polygon points="204,196 236,192 236,268 204,270" fill="#e7c76a" /><polygon points="206,200 222,198 222,214 206,216" fill="#5a4a9a" /><polygon points="238,206 346,198 350,262 238,268" fill="#c9c862" /><polygon points="262,204 306,200 310,240 264,246" fill="#dfe070" /><polygon points="300,226 350,222 350,262 300,266" fill="#9cba58" /><polygon points="200,268 388,262 388,278 200,284" fill="#fbfbf8" /><polygon points="202,318 380,306 384,446 202,452" fill="#e9b070" /><polygon points="206,330 262,324 266,392 206,398" fill="#f0c890" /><polygon points="290,312 352,308 356,372 292,380" fill="#e08a38" /><polygon points="204,392 262,386 266,448 204,452" fill="#e58a50" /><polygon points="262,384 330,378 334,446 264,450" fill="#d9c870" /><polygon points="322,384 382,380 384,446 326,448" fill="#e8a068" /><polygon points="236,404 270,400 272,436 238,440" fill="#b9c86a" /><polygon points="200,452 388,446 388,470 200,476" fill="#fafaf8" /><polygon points="214,492 388,486 388,832 214,852" fill="#e4e2de" /><polygon points="220,504 382,498 382,528 220,534" fill="#b9b4ae" /><polygon points="224,516 300,512 300,524 224,528" fill="#6e6a68" /><polygon points="222,540 382,534 382,600 222,608" fill="#d9c0ae" /><polygon points="228,572 376,566 376,596 228,602" fill="#b89a84" /><polygon points="222,612 382,606 382,622 222,628" fill="#f6f6f4" /><polygon points="226,634 378,628 378,694 226,702" fill="#d8c4b4" /><polygon points="232,660 372,654 372,690 232,696" fill="#c0a088" /><polygon points="226,706 378,698 378,714 226,722" fill="#f4f4f2" /><polygon points="230,730 376,722 376,812 230,826" fill="#a9b4c0" /><polygon points="250,760 340,752 346,800 254,810" fill="#7a8798" /><polygon points="262,764 320,758 324,786 266,792" fill="#b8c2cc" /><polygon points="404,106 420,106 420,862 404,860" fill="#4a4a4a" /><polygon points="404,106 412,106 412,860 404,860" fill="#8a8a8a" /><polygon points="424,106 668,92 676,472 428,464" fill="#b9b6b0" /><polygon points="436,126 640,114 646,452 440,446" fill="#f0eeea" /><polygon points="440,160 618,152 618,202 440,208" fill="#e9b48a" /><polygon points="440,186 618,178 618,202 440,208" fill="#f3d9c2" /><polygon points="528,232 612,228 612,304 530,306" fill="#4e8f3c" /><polygon points="548,236 560,236 560,300 548,300" fill="#79b85a" /><polygon points="580,234 592,234 592,300 580,300" fill="#79b85a" /><polygon points="514,312 612,308 614,442 518,446" fill="#c6d83e" /><polygon points="540,316 560,316 560,440 540,440" fill="#dcea6a" /><polygon points="580,314 596,314 596,440 580,440" fill="#b2c82e" /><polygon points="450,270 512,266 514,442 452,444" fill="#e6ecee" /><circle cx="474" cy="352" r="17" fill="#4f9a8e"/><circle cx="474" cy="352" r="9" fill="#dff0ec"/><polygon points="462,282 492,280 494,316 464,318" fill="#bcd0e0" /><polygon points="640,96 668,92 678,470 646,470" fill="#c4beb4" /><polygon points="428,478 674,482 680,864 432,836" fill="#bdbab4" /><polygon points="442,494 646,498 652,842 446,820" fill="#f1f0ee" /><polygon points="646,486 674,482 680,864 652,860" fill="#c4beb4" /><polygon points="428,464 676,472 674,486 428,480" fill="#8e8a84" /><polygon points="178,880 194,880 194,894 180,892" fill="#444" /><polygon points="398,848 414,848 414,862 400,862" fill="#444" /></g>
<g transform="translate(645 495) scale(0.07673)"><path d="M380 160C495 160 585 250 585 365C585 450 545 520 528 565C505 625 492 700 470 760Q460 800 450 806L316 806Q300 790 288 750C268 690 255 625 232 565C215 520 175 450 175 365C175 250 265 160 380 160Z" fill="url(#bulbG)"/><path d="M300 520C290 600 300 720 320 800L316 806Q300 790 288 750C268 690 255 625 232 565Z" fill="#dcdcdc" opacity=".6"/><path d="M440 540C470 560 480 640 470 760Q460 800 450 806L400 806C430 740 440 640 440 540Z" fill="#f4f4f4" opacity=".8"/><ellipse cx="326" cy="310" rx="18" ry="16" fill="#fff" opacity=".95"/><ellipse cx="436" cy="300" rx="18" ry="16" fill="#fff" opacity=".95"/><path d="M318 806H448V880Q448 925 383 925Q318 925 318 880Z" fill="url(#bulbB)"/><rect x="318" y="822" width="130" height="8" fill="#7c7c7c" opacity=".55"/><rect x="318" y="846" width="130" height="8" fill="#7c7c7c" opacity=".55"/><rect x="318" y="870" width="130" height="8" fill="#7c7c7c" opacity=".55"/><rect x="318" y="894" width="130" height="8" fill="#7c7c7c" opacity=".55"/></g>
<g style="mix-blend-mode:multiply"><rect x="626" y="617.8" width="96" height="29.2" rx="2.5" fill="#cfcfcf" opacity=".5" filter="url(#blur1)"/><path d="M626.6 620Q626.6 617.8 629 617.8H719.2Q721.8 617.8 721.8 620V641H626.6Z" fill="url(#acG)"/><path d="M626.6 641H721.8L720.6 645Q720 646.9 717.5 646.9H631Q628.4 646.9 627.8 645Z" fill="#e9e9e9"/><rect x="632.5" y="641.7" width="81" height="1.3" rx=".6" fill="#7d7d7d"/><rect x="627" y="640.3" width="94.4" height=".8" fill="#d2d2d2"/><path d="M631.6 623.4L635 621.8L634.2 623.2L632.2 624Z" fill="#8a8a8a"/></g>
<rect x="631.4" y="706" width="57.3" height="40.4" fill="#3e4147"/><rect x="633.9" y="708.1" width="52.4" height="35.5" fill="#fdfdfd"/><path d="M654.8 746.4H666L668.1 750.9H676.5L678.5 753.6H640.9L642.9 750.9H652.3Z" fill="#3e4147"/><rect x="693.1" y="699.5" width="26.1" height="53.9" fill="#323840"/><rect x="695.2" y="706" width="21.6" height="4.6" fill="#5c6169"/><rect x="711.9" y="706" width="4.9" height="4.6" fill="#3e7cc8"/><rect x="695.2" y="723.1" width="21.6" height="4.2" fill="#5c6169"/><rect x="695.2" y="729.4" width="21.6" height="3.1" fill="#5c6169"/><rect x="703.6" y="740.1" width="6.2" height="5.9" fill="#4b8b98"/><rect x="705.1" y="741.5" width="3.2" height="3.1" fill="#f2fbfb"/>
<circle cx="677.1" cy="817.0" r="17.2" fill="#cbcbcb" stroke="#2e2e2e" stroke-width="1.3"/><path d="M679.6 817.3L694.2 819.2M679.4 818.0L693.0 823.6M679.1 818.5L690.8 827.5M678.6 819.0L687.6 830.6M678.1 819.3L683.7 832.9M677.4 819.5L679.4 834.1M676.8 819.5L674.9 834.1M676.1 819.3L670.5 832.9M675.6 819.0L666.6 830.7M675.1 818.5L663.5 827.5M674.8 818.0L661.2 823.6M674.6 817.3L660.0 819.3M674.6 816.7L660.0 814.8M674.8 816.0L661.2 810.4M675.1 815.5L663.4 806.5M675.6 815.0L666.6 803.4M676.1 814.7L670.5 801.1M676.8 814.5L674.8 799.9M677.4 814.5L679.3 799.9M678.1 814.7L683.7 801.1M678.6 815.0L687.6 803.3M679.1 815.5L690.7 806.5M679.4 816.0L693.0 810.4M679.6 816.7L694.2 814.7" stroke="#9a9a9a" stroke-width="0.4" fill="none"/><circle cx="677.1" cy="817.0" r="13.7" fill="none" stroke="#9a9a9a" stroke-width="0.4"/><path d="M677.1 817.0L676.2 801.2L678.6 801.4L679.1 814.0Z" fill="#2b2b2b"/><path d="M677.1 817.0L662.5 825.4L663.5 822.9L674.6 816.6Z" fill="#2b2b2b"/><path d="M677.1 817.0L691.5 825.2L690.3000000000001 822.6L679.7 816.4Z" fill="#2b2b2b"/><ellipse cx="677.1" cy="816.8" rx="3.2" ry="1.9" fill="#2a2a2a"/><rect x="675.95" y="820" width="1.6" height="41" fill="#2c2c2c"/><path d="M664.1 863.9Q664.6 861.2 670.5 860.4Q676.6 859.7 682.7 860.4Q688.5 861.2 689 863.9Z" fill="#2b2b2b"/>
<g transform="translate(0.0 0)" fill="none" stroke="#333" stroke-width="4.3" stroke-linecap="round" stroke-linejoin="round"><rect x="341.2" y="883.2" width="70.1" height="45.7" rx="5"/><path d="M341.2 893.4H411.3"/><path d="M354.7 883V877.6Q354.7 876.1 356.2 876.1H365.7Q367.2 876.1 367.2 877.6V883"/><path d="M385.9 883V877.6Q385.9 876.1 387.4 876.1H396.9Q398.4 876.1 398.4 877.6V883"/><path d="M356.2 905.8H365.4M360.8 901.2V910.4M387.4 905.8H396.6" stroke-width="4"/></g><g transform="translate(79.3 0)" fill="none" stroke="#333" stroke-width="4.3" stroke-linecap="round" stroke-linejoin="round"><rect x="341.2" y="883.2" width="70.1" height="45.7" rx="5"/><path d="M341.2 893.4H411.3"/><path d="M354.7 883V877.6Q354.7 876.1 356.2 876.1H365.7Q367.2 876.1 367.2 877.6V883"/><path d="M385.9 883V877.6Q385.9 876.1 387.4 876.1H396.9Q398.4 876.1 398.4 877.6V883"/><path d="M356.2 905.8H365.4M360.8 901.2V910.4M387.4 905.8H396.6" stroke-width="4"/></g>
<path d="M203.2 468.9H283.8V818.6H355V776" fill="none" stroke="#1717b0" stroke-width="2" />
<path d="M355 768.6L358.6 776.6H351.4Z" fill="#1a1ae0"/>
<path d="M175 674.3H265.8V840" fill="none" stroke="#15155c" stroke-width="2" stroke-dasharray="7 4"/>
<path d="M189.7 843.8H375.5V772" fill="none" stroke="#1a1a8c" stroke-width="2" />
<path d="M375.5 763.8L380.6 774H370.4Z" fill="#1a1ae0"/>
<path d="M500.5 634.4H602" fill="none" stroke="#1717b0" stroke-width="2" />
<path d="M565 443.8V823" fill="none" stroke="#1717b0" stroke-width="2" />
<path d="M565 443.8H602" fill="none" stroke="#1717b0" stroke-width="2" />
<path d="M610.6 443.8L601 438.0V449.6Z" fill="#1c1cde"/>
<path d="M565 553.8H602" fill="none" stroke="#1717b0" stroke-width="2" />
<path d="M610.6 553.8L601 548.0V559.5999999999999Z" fill="#1c1cde"/>
<path d="M565 634.4H602" fill="none" stroke="#1717b0" stroke-width="2" />
<path d="M610.6 634.4L601 628.6V640.1999999999999Z" fill="#1c1cde"/>
<path d="M565 716.8H602" fill="none" stroke="#1717b0" stroke-width="2" />
<path d="M610.6 716.8L601 711.0V722.5999999999999Z" fill="#1c1cde"/>
<path d="M565 823H602" fill="none" stroke="#1717b0" stroke-width="2" />
<path d="M610.6 823L601 817.2V828.8Z" fill="#1c1cde"/>
<path d="M408.2 770V855" fill="none" stroke="#111" stroke-width="2" />
<path d="M408.2 763.4L413 773.4H403.4Z" fill="#111"/><path d="M408.2 861.2L413 851.2H403.4Z" fill="#111"/>
<path d="M424.2 770V855" fill="none" stroke="#c8201c" stroke-width="2" />
<path d="M424.2 763.4L429 773.4H419.4Z" fill="#e0201c"/><path d="M424.2 861.2L429 851.2H419.4Z" fill="#e0201c"/>
<rect x="206.3" y="407.8" width="231.7" height="28.6" rx="8" fill="#f3131b"/>
<text x="212" y="428.5" font-size="16" font-weight="bold" fill="#fff" textLength="220" lengthAdjust="spacing">光伏PV输入范围：90~450VDC</text>
<rect x="308.1" y="459.6" width="176.7" height="28.4" rx="8" fill="#f3131b"/>
<text x="313.9" y="480.2" font-size="16" font-weight="bold" fill="#fff" textLength="165.6" lengthAdjust="spacing">内置MPPT 150A控制器</text>
<rect x="345.8" y="964.6" width="130.6" height="23.4" rx="11.7" fill="#f3131b"/>
<text x="369.9" y="981.5" font-size="13" font-weight="bold" fill="#fff" textLength="77" lengthAdjust="spacing">电池电压 48V</text>
<text x="211" y="400.6" font-size="16" fill="#111" textLength="94" lengthAdjust="spacing">太阳能光伏板</text>
<text x="508.5" y="655.3" font-size="19.3" fill="#111" textLength="75" lengthAdjust="spacing">交流输出</text>
<text x="232.5" y="865.4" font-size="19.3" fill="#111" textLength="76" lengthAdjust="spacing">交流输入</text>
<text x="109.5" y="738.7" font-size="14" fill="#111" textLength="41.8" lengthAdjust="spacing">发电机</text>
<text x="121.3" y="915.2" font-size="14" fill="#111" textLength="27.3" lengthAdjust="spacing">市电</text>
<text x="642.2" y="473.3" font-size="14" fill="#111" textLength="61.2" lengthAdjust="spacing">冰箱/冷库</text>
<text x="644" y="592.6" font-size="14" fill="#111" textLength="60.5" lengthAdjust="spacing">电灯/照明</text>
<text x="662.8" y="672" font-size="14" fill="#111" textLength="26.6" lengthAdjust="spacing">空调</text>
<text x="611.5" y="775.8" font-size="14" fill="#111" textLength="123.8" lengthAdjust="spacing">监控显示/电视/电脑</text>
<text x="621.2" y="888.2" font-size="14" fill="#111" textLength="118.8" lengthAdjust="spacing">风扇/各种家用电器</text>
<text x="266.4" y="954.6" font-size="14" fill="#111" textLength="272.4" lengthAdjust="spacing">可选铅酸电池/水电池/三元锂电池/胶体电池</text>
</svg>
<div class="en" style="left:237px;top:297px;width:318px;height:20px;line-height:20px;font-size:15.9px;font-weight:bold;color:#333;letter-spacing:-0.2px;text-align:left">SCHEMATIC DIAGRAM OF THE PRINCIPLE</div>
<div class="en" style="left:679.5px;top:1017px;height:14px;line-height:14px;font-size:12.3px;color:#dd2a33">blog.fishedee.com</div>
</div>
</body>
</html>
